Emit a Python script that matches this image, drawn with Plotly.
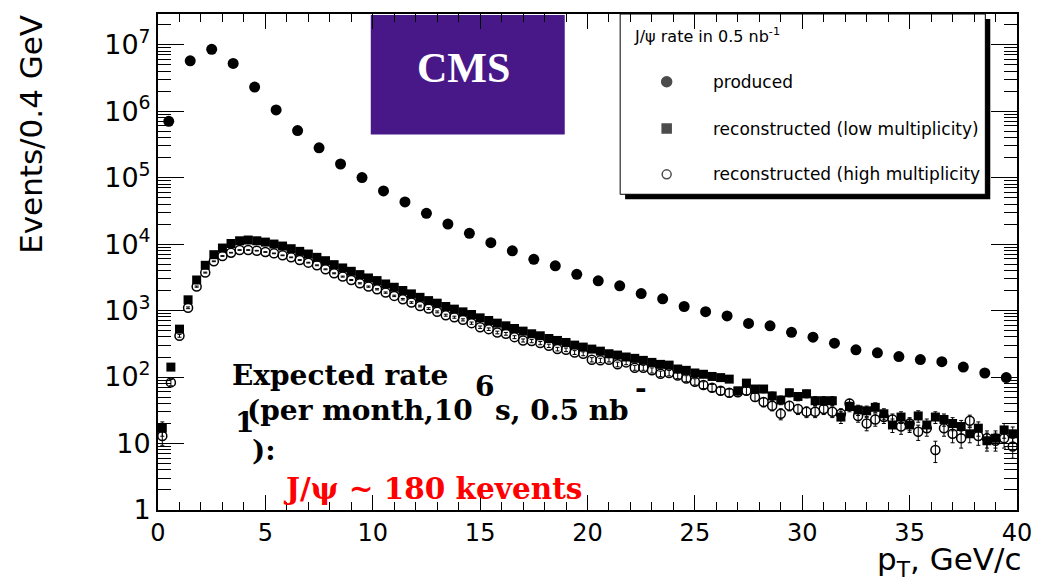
import numpy as np
import plotly.graph_objects as go

# J/psi pT spectra, events per bin
pt_produced = 0.5 + 1.0 * np.arange(40)
produced = [7.0e5, 5.7e6, 8.5e6, 5.2e6, 2.3e6, 1.04e6, 5.1e5, 2.8e5, 1.6e5, 1.0e5,
            6.3e4, 4.3e4, 2.9e4, 2.0e4, 1.45e4, 1.05e4, 7900, 5900, 4700, 3500,
            2800, 2350, 1800, 1500, 1150, 960, 830, 640, 590, 470,
            398, 323, 257, 231, 203, 183, 170, 141, 115, 98]

pt_reco = 0.2 + 0.4 * np.arange(100)
reco_low = [17, 141, 525, 1450, 2880, 4790, 6920, 8710, 10200, 11200,
            11500, 11200, 10700, 10000, 9330, 8510, 7760, 7080, 6310, 5620,
            4900, 4370, 3890, 3470, 3090, 2820, 2510, 2240, 2000, 1780,
            1580, 1410, 1290, 1150, 1050, 955, 871, 776, 708, 646,
            589, 537, 490, 447, 417, 380, 355, 331, 302, 282,
            263, 245, 224, 214, 200, 191, 178, 166, 155, 151,
            132, 126, 115, 110, 102, 98, 93, 62, 81, 66,
            66, 52, 45, 58, 51, 56, 44, 44, 44, 25,
            36, 32, 31, 35, 28, 19, 25, 19, 26, 19,
            25, 23, 20, 18, 14, 17, 11, 12, 16, 14]
reco_high = [13, 83, 417, 1100, 2290, 3720, 5500, 6610, 7410, 8130,
             8130, 7940, 7590, 7240, 6760, 6310, 5750, 5250, 4790, 4170,
             3630, 3240, 2880, 2570, 2290, 2090, 1860, 1660, 1480, 1320,
             1170, 1070, 955, 851, 794, 724, 646, 562, 525, 468,
             447, 398, 355, 347, 324, 295, 263, 257, 234, 224,
             182, 178, 182, 155, 166, 138, 138, 126, 112, 115,
             105, 95, 85, 76, 69, 62, 58, 59, 62, 50,
             42, 37, 28, 37, 33, 30, 30, 33, 30, 28,
             40, 26, 20, 23, 25, 23, 18, 20, 15, 17,
             8, 17, 14, 12, 22, 13, 12, 11, 12, 9]

legend_labels = ["produced", "reconstructed (low multiplicity)",
                 "reconstructed (high multiplicity"]
legend_symbols = ["circle", "square", "circle-open"]

y_major = [10 ** k for k in range(8)]
y_major_text = ["1", "10"] + [f"10<sup>{k}</sup>" for k in range(2, 8)]

W, H = 1044, 584
L, R, T, B = 158, 1026, 12, 510


def px(x):
    return (x - L) / (R - L)


def py(y):
    return 1 - (y - T) / (B - T)


fig = go.Figure()

err = dict(type="data", color="black", thickness=1, width=2)

fig.add_trace(go.Scatter(
    x=pt_reco, y=reco_low, mode="markers",
    marker=dict(symbol="square", size=9, color="black"),
    error_y=dict(err, array=np.sqrt(reco_low)),
    showlegend=False))
fig.add_trace(go.Scatter(
    x=pt_reco, y=reco_high, mode="markers",
    marker=dict(symbol="circle-open", size=9, color="black", line=dict(width=1.5)),
    error_y=dict(err, array=np.sqrt(reco_high)),
    showlegend=False))
fig.add_trace(go.Scatter(
    x=pt_produced, y=produced, mode="markers",
    marker=dict(symbol="circle", size=11, color="black"),
    showlegend=False))

# legend key markers on a hidden overlay axis pair
fig.add_trace(go.Scatter(
    x=[px(672)] * 3, y=[py(80), py(127), py(173)],
    xaxis="x2", yaxis="y2", mode="markers",
    marker=dict(symbol=legend_symbols, size=[10, 9, 9], color="black",
                line=dict(width=1.5, color="black")),
    showlegend=False, hoverinfo="skip"))

sans = "DejaVu Sans, sans-serif"
serif_b = "DejaVu Serif, serif"

shapes = [
    # legend shadow and box
    dict(type="rect", xref="paper", yref="paper", x0=px(630), x1=px(999),
         y0=py(198), y1=py(17), fillcolor="black", line=dict(width=0), layer="below"),
    dict(type="rect", xref="paper", yref="paper", x0=px(625), x1=px(994),
         y0=py(193), y1=py(12), fillcolor="white", line=dict(width=1, color="black"),
         layer="below"),
    # CMS badge
    dict(type="rect", xref="paper", yref="paper", x0=px(373), x1=px(569),
         y0=py(133), y1=py(13), fillcolor="rgb(72,24,136)", line=dict(width=0),
         layer="below"),
]


def ann(text, x, y, size, font, color="black", xanchor="left", bold=False, angle=0):
    return dict(text=f"<b>{text}</b>" if bold else text, xref="paper", yref="paper",
                x=px(x), y=py(y), xanchor=xanchor, yanchor="middle", showarrow=False,
                textangle=angle, font=dict(size=size, family=font, color=color))


annotations = [
    ann("CMS", 467, 66, 42, "Liberation Serif, Times New Roman, serif", "white",
        "center", True),
    ann("J/\u03c8 rate in 0.5 nb<sup>-1</sup>", 637, 34, 16, sans),
    ann(legend_labels[0], 717, 80, 17, sans),
    ann(legend_labels[1], 717, 127, 17, sans),
    ann(legend_labels[2], 717, 173, 17, sans),
    ann("Expected rate", 231, 375, 28, serif_b, bold=True),
    ann("6", 488, 386, 28, serif_b, xanchor="center", bold=True),
    ann("1", 245, 422, 28, serif_b, xanchor="center", bold=True),
    ann("(per month,10", 246, 410, 28, serif_b, bold=True),
    ann("s, 0.5 nb", 497, 410, 28, serif_b, bold=True),
    ann("-", 646, 388, 28, serif_b, xanchor="center", bold=True),
    ann("):", 251, 450, 28, serif_b, bold=True),
    ann("J/\u03c8 ~ 180 kevents", 282, 488, 29.5, serif_b, "red", bold=True),
    ann("Events/0.4 GeV", 29, 133, 31, sans, xanchor="center", angle=-90),
    ann("p<sub>T</sub>, GeV/c", 1032, 562, 31, sans, xanchor="right"),
]

fig.update_layout(
    width=W, height=H, autosize=False,
    margin=dict(l=L, r=W - R, t=T, b=H - B, pad=0),
    paper_bgcolor="white", plot_bgcolor="rgba(0,0,0,0)",
    shapes=shapes, annotations=annotations,
    xaxis=dict(range=[0, 40], showgrid=False, zeroline=False,
               showline=True, linewidth=2, linecolor="black", mirror="ticks",
               ticks="inside", ticklen=15, tickwidth=1, tickcolor="black",
               tick0=0, dtick=5,
               minor=dict(ticks="inside", ticklen=8, tickwidth=1, tickcolor="black",
                          dtick=1),
               tickfont=dict(size=24, family=sans, color="black")),
    yaxis=dict(type="log", range=[0, 7.46], showgrid=False, zeroline=False,
               showline=True, linewidth=2, linecolor="black", mirror="ticks",
               ticks="inside", ticklen=26, tickwidth=1, tickcolor="black",
               tickmode="array", tickvals=y_major, ticktext=y_major_text,
               minor=dict(ticks="inside", ticklen=13, tickwidth=1, tickcolor="black",
                          dtick="D1"),
               tickfont=dict(size=27, family=sans, color="black")),
    xaxis2=dict(domain=[0, 1], range=[0, 1], anchor="y2", visible=False,
                fixedrange=True),
    yaxis2=dict(domain=[0, 1], range=[0, 1], anchor="x2", visible=False,
                fixedrange=True),
)

fig.write_html("out.html")
